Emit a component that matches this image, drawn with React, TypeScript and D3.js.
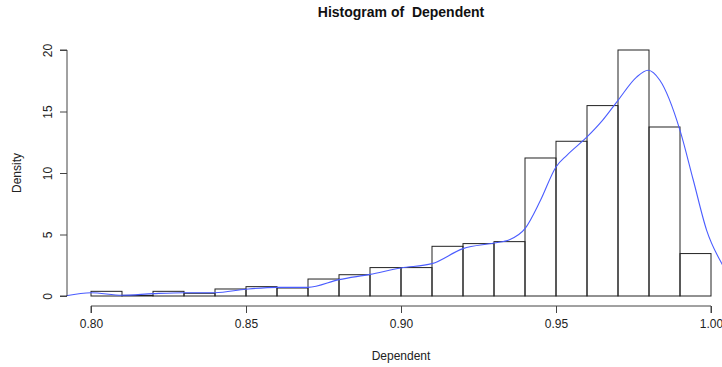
import { useEffect, useRef } from "react";
import * as d3 from "d3";

// histogram bins (left edge) and density heights
const binStarts = [0.80, 0.81, 0.82, 0.83, 0.84, 0.85, 0.86, 0.87, 0.88, 0.89,
  0.90, 0.91, 0.92, 0.93, 0.94, 0.95, 0.96, 0.97, 0.98, 0.99];
const binDensity = [0.38, 0.05, 0.38, 0.22, 0.57, 0.76, 0.65, 1.38, 1.73, 2.31,
  2.31, 4.04, 4.26, 4.42, 11.22, 12.58, 15.48, 20.0, 13.74, 3.45];
const binWidth = 0.01;

// kernel density curve
const densX = [0.792, 0.80, 0.81, 0.82, 0.83, 0.84, 0.85, 0.86, 0.87, 0.88, 0.89,
  0.90, 0.91, 0.92, 0.93, 0.935, 0.94, 0.945, 0.95, 0.9535, 0.96, 0.965, 0.97,
  0.976, 0.9797, 0.9835, 0.99, 0.9943, 0.9986, 1.0035, 1.008];
const densY = [0.02, 0.27, 0.06, 0.19, 0.27, 0.27, 0.55, 0.7, 0.7, 1.33, 1.76,
  2.28, 2.63, 3.85, 4.31, 4.58, 5.48, 7.78, 10.49, 11.44, 12.93, 14.28, 15.91,
  17.8, 18.35, 17.54, 13.47, 9.41, 5.34, 2.63, 1.0];

const xTicks = [0.80, 0.85, 0.90, 0.95, 1.00];
const yTicks = [0, 5, 10, 15, 20];

export default function App() {
  const ref = useRef<HTMLDivElement>(null);

  useEffect(() => {
    const width = 722;
    const height = 367;
    const font = "'Liberation Sans', Arial, sans-serif";

    const x = d3.scaleLinear([0.80, 1.00], [91, 711]);
    const y = d3.scaleLinear([0, 20], [296, 50]);

    const svg = d3.select(ref.current)
      .append("svg")
      .attr("width", width)
      .attr("height", height)
      .style("position", "absolute")
      .style("left", 0)
      .style("top", 0)
      .style("font-family", font);

    svg.append("defs").append("clipPath").attr("id", "plotclip")
      .append("rect")
      .attr("x", 66).attr("y", 40).attr("width", 670).attr("height", 266);

    // bars
    svg.append("g")
      .selectAll("rect")
      .data(binStarts)
      .join("rect")
      .attr("x", (d) => x(d))
      .attr("y", (d, i) => y(binDensity[i]))
      .attr("width", (d) => x(d + binWidth) - x(d))
      .attr("height", (d, i) => y(0) - y(binDensity[i]))
      .attr("fill", "none")
      .attr("stroke", "#222")
      .attr("stroke-width", 1);

    // density line
    const line = d3.line<number>()
      .x((d) => x(d))
      .y((d, i) => y(densY[i]))
      .curve(d3.curveMonotoneX);

    svg.append("path")
      .datum(densX)
      .attr("clip-path", "url(#plotclip)")
      .attr("fill", "none")
      .attr("stroke", "#4a5cff")
      .attr("stroke-width", 1.1)
      .attr("d", line);

    // x axis
    const xAxis = svg.append("g")
      .attr("transform", "translate(0,306)")
      .call(d3.axisBottom(x).tickValues(xTicks).tickFormat(d3.format(".2f")).tickSize(7).tickPadding(6));
    xAxis.select(".domain").attr("stroke", "#444").attr("d", `M${x(0.8)},7V0H${x(1.0)}V7`);
    xAxis.selectAll("line").attr("stroke", "#444");
    xAxis.selectAll("text").attr("font-size", 12).attr("fill", "#222").attr("font-family", font);

    // y axis
    const yAxis = svg.append("g")
      .attr("transform", "translate(67,0)")
      .call(d3.axisLeft(y).tickValues(yTicks).tickSize(7).tickPadding(0));
    yAxis.select(".domain").attr("stroke", "#444").attr("d", `M-7,${y(20)}H0V${y(0)}H-7`);
    yAxis.selectAll("line").attr("stroke", "#444");
    yAxis.selectAll("text")
      .attr("font-size", 12)
      .attr("fill", "#222")
      .attr("font-family", font)
      .attr("text-anchor", "middle")
      .attr("dy", null)
      .attr("x", null)
      .attr("transform", "translate(-19,0) rotate(-90)")
      .attr("y", 0)
      .attr("dominant-baseline", "central");

    // labels
    svg.append("text")
      .attr("x", 401)
      .attr("y", 17)
      .attr("text-anchor", "middle")
      .attr("font-weight", "bold")
      .attr("font-size", 14)
      .attr("fill", "#111")
      .style("white-space", "pre")
      .text("Histogram of  Dependent");

    svg.append("text")
      .attr("x", 401)
      .attr("y", 360)
      .attr("text-anchor", "middle")
      .attr("font-size", 12)
      .attr("fill", "#222")
      .text("Dependent");

    svg.append("text")
      .attr("transform", "translate(21,173) rotate(-90)")
      .attr("text-anchor", "middle")
      .attr("font-size", 12)
      .attr("fill", "#222")
      .text("Density");

    return () => {
      d3.select(ref.current).selectAll("*").remove();
    };
  });

  return <div ref={ref} />;
}
